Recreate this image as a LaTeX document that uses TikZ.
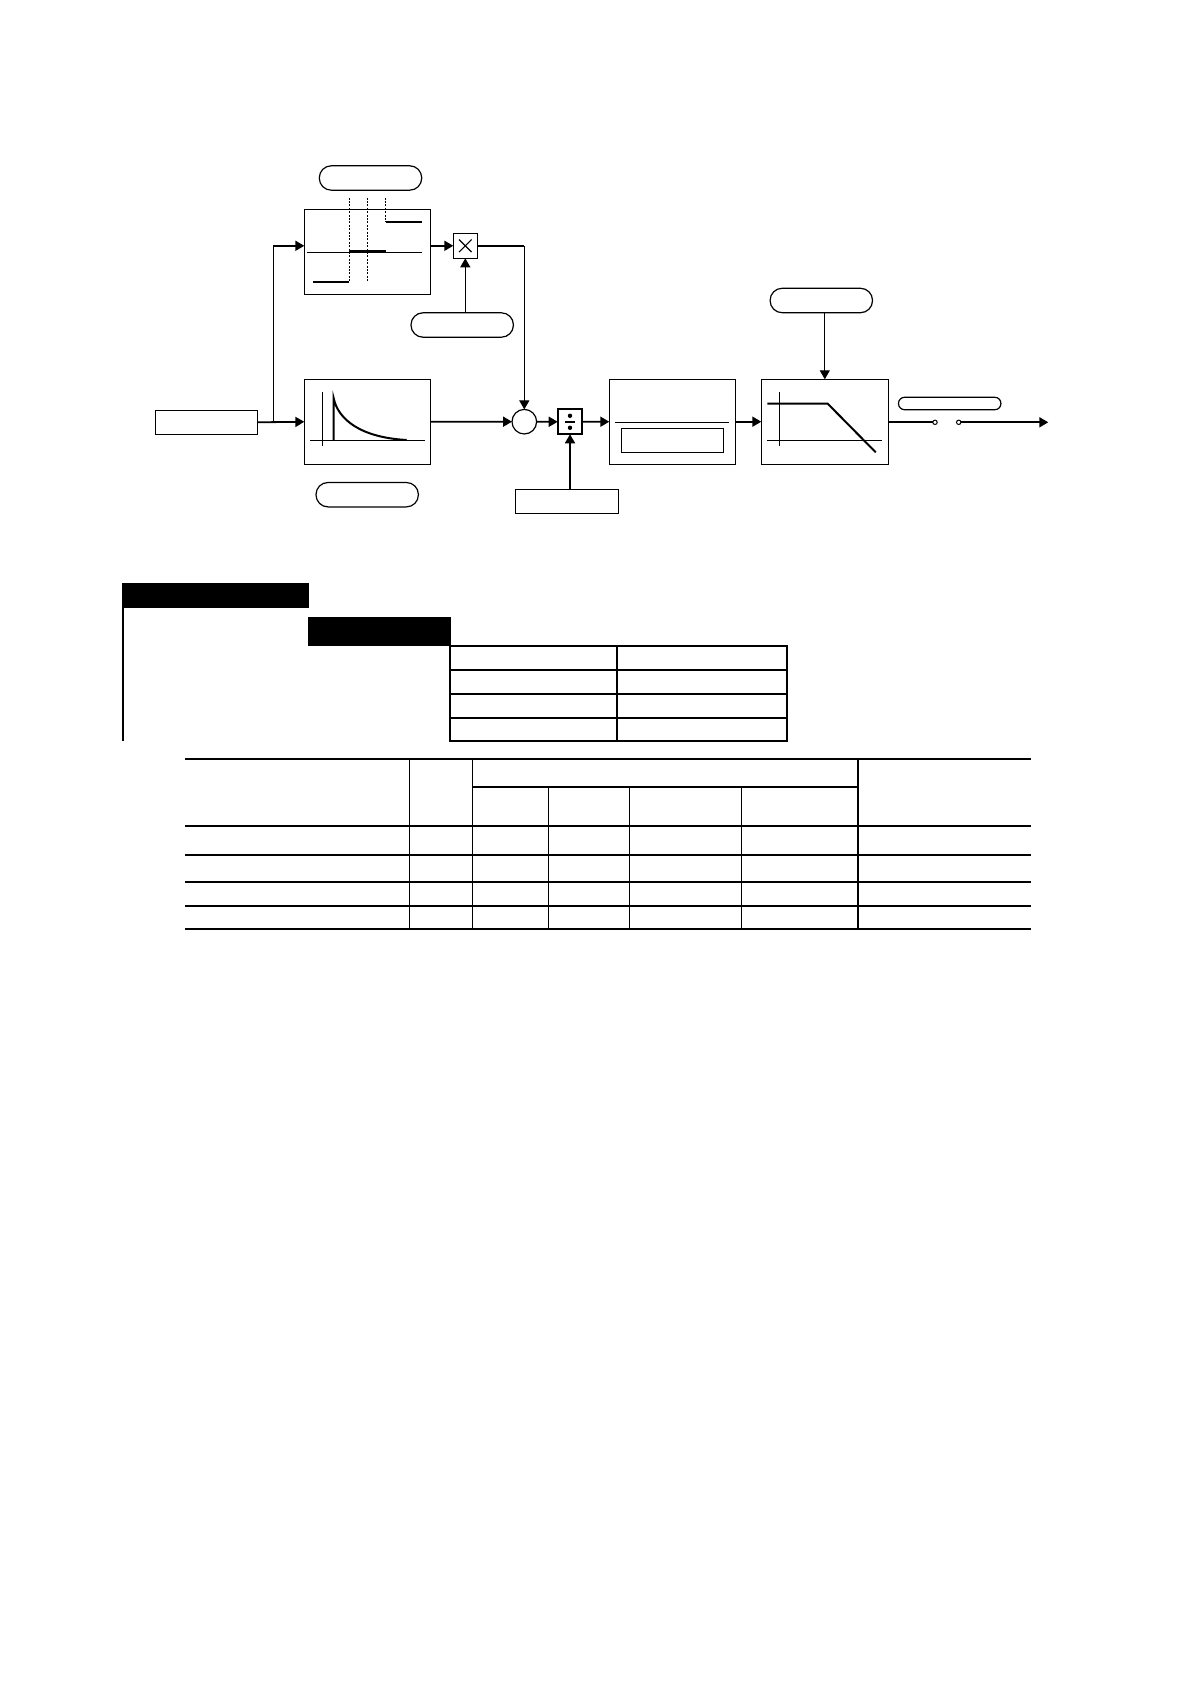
\documentclass[tikz,border=0pt]{standalone}
\usetikzlibrary{arrows.meta,calc}
\begin{document}
\begin{tikzpicture}[x=0.5pt,y=-0.5pt,
  blk/.style={draw, line width=0.6pt, inner sep=0pt, outer sep=0pt},
  oval/.style={draw, line width=0.6pt, rounded corners=6pt, inner sep=0pt, outer sep=0pt, minimum width=51.2pt, minimum height=12.2pt},
  sig/.style={line width=0.9pt, -{Triangle[length=4.5pt,width=5pt]}},
  sigv/.style={line width=0.6pt, -{Triangle[length=4.5pt,width=5pt]}},
  wire/.style={line width=0.9pt},
  wirev/.style={line width=0.6pt},
  axis/.style={line width=0.45pt},
  curve/.style={line width=1pt},
  dsh/.style={line width=0.45pt, dash pattern=on 1pt off 0.7pt},
  tline/.style={line width=1pt},
  tthin/.style={line width=0.55pt}
]
\useasboundingbox (0,0) rectangle (1191,1684);
\fill[white] (0,0) rectangle (1191,1684);

% ---------- nodes ----------
\node[blk, minimum width=51pt, minimum height=12pt] (in) at (206.3,422.3) {};
\node[blk, minimum width=63.2pt, minimum height=42.5pt] (stepbox) at (367.5,251.8) {};
\node[oval] (topoval) at (370.5,178) {};
\node[blk, minimum width=12pt, minimum height=12.5pt] (mult) at (465.3,245.8) {};
\node[oval] (multoval) at (462.2,325) {};
\node[blk, minimum width=63.2pt, minimum height=42.5pt] (decay) at (367.5,421.8) {};
\node[oval] (decayoval) at (367.2,494.7) {};
\node[blk, circle, minimum size=12.3pt] (sum) at (524.3,421.7) {};
\node[blk, line width=0.9pt, minimum width=12.3pt, minimum height=12.5pt] (div) at (570,421.8) {};
\node[blk, minimum width=51.5pt, minimum height=12pt] (divrect) at (566.8,501.3) {};
\node[blk, minimum width=63pt, minimum height=42.4pt] (disp) at (672.3,421.7) {};
\node[blk, minimum width=63.5pt, minimum height=42.4pt] (filter) at (824.8,421.7) {};
\node[oval] (filteroval) at (821.3,300.5) {};
\node[blk, circle, line width=0.5pt, minimum size=2.2pt] (sw1) at (935,422.3) {};
\node[blk, circle, line width=0.5pt, minimum size=2.2pt] (sw2) at (958.7,422.3) {};
\node[oval, rounded corners=3pt, minimum height=6.2pt] (swoval) at (949.7,403.5) {};
\coordinate (out) at (1048.3,422.3);
\coordinate (br) at (273.3,421.7);
\coordinate (brtop) at (br |- mult.west);

% ---------- connectors ----------
\draw[sig] (in.east) -- (decay.west);
\draw[wirev] (br) -- (brtop);
\draw[sig] (brtop) -- (stepbox.west |- brtop);
\draw[sig] (stepbox.east |- mult.west) -- (mult.west);
\draw[wire] (mult.east) -- (mult.east -| sum.north);
\draw[sigv] (mult.east -| sum.north) -- (sum.north);
\draw[sigv] (multoval.north -| mult.south) -- (mult.south);
\draw[sig] (decay.east) -- (sum.west);
\draw[sig] (sum.east) -- (div.west);
\draw[sig] (divrect.north -| div.south) -- (div.south);
\draw[sig] (div.east) -- (disp.west);
\draw[sig] (disp.east) -- (filter.west);
\draw[sigv] (filteroval.south -| filter.north) -- (filter.north);
\draw[wire] (filter.east |- sw1.west) -- (sw1.west);
\draw[sig] (sw2.east) -- (out);

% ---------- symbols inside blocks ----------
% multiply
\draw[line width=0.55pt] ($(mult.center)+(-6.3,-6.3)$) -- ($(mult.center)+(6.3,6.3)$);
\draw[line width=0.55pt] ($(mult.center)+(-6.3,6.3)$) -- ($(mult.center)+(6.3,-6.3)$);
% divide
\draw[line width=0.8pt] ($(div.center)+(-5,0)$) -- ($(div.center)+(5,0)$);
\fill ($(div.center)+(0,-6)$) circle (1.1pt);
\fill ($(div.center)+(0,6)$) circle (1.1pt);

% step function
\draw[axis] (306.7,252) -- (421.7,252);
\draw[dsh] (349.3,197.7) -- (349.3,282.3);
\draw[dsh] (367.3,197.7) -- (367.3,281.7);
\draw[dsh] (385.7,197.7) -- (385.7,221.7);
\draw[curve] (313.3,282.3) -- (349.3,282.3);
\draw[curve] (349.3,251.3) -- (385.7,251.3);
\draw[curve] (385.7,221.7) -- (421.7,221.7);

% decay
\draw[axis] (322.3,392.3) -- (322.3,445.7);
\draw[axis] (310,440) -- (425,440);
\draw[curve] (333.7,440) -- (333.7,398.3) .. controls (338,419) and (360,437.5) .. (406.7,440);

% display
\draw[axis] (615,422.3) -- (728.7,422.3);
\draw[line width=0.6pt] (621.3,428.3) rectangle (723.7,452.3);

% filter
\draw[axis] (779.3,392.3) -- (779.3,445.7);
\draw[axis] (766.7,440.3) -- (881.7,440.3);
\draw[curve] (767.3,403.7) -- (827.7,403.7) -- (875.7,452.3);

% ---------- table ----------
\fill (122.3,583.3) rectangle (308.7,608.3);
\fill (307.5,616.7) rectangle (450.5,646);
\draw[tline] (123,608) -- (123,740.7);

\draw[tline] (450,646) rectangle (786.7,740.7);
\foreach \yy in {669.7,693.7,717.7} \draw[tline] (450,\yy) -- (786.7,\yy);
\draw[tline] (616.8,646) -- (616.8,740.7);

\foreach \yy in {759,826,855,881.7,905.7,929} \draw[tline] (185,\yy) -- (1031,\yy);
\draw[tline] (472.3,786.7) -- (857.7,786.7);
\foreach \xx in {409.5,472.3} \draw[tthin] (\xx,759) -- (\xx,929);
\foreach \xx in {548.5,629.3,741.5} \draw[tthin] (\xx,786.7) -- (\xx,929);
\draw[tline] (857.7,759) -- (857.7,929);
\end{tikzpicture}
\end{document}
